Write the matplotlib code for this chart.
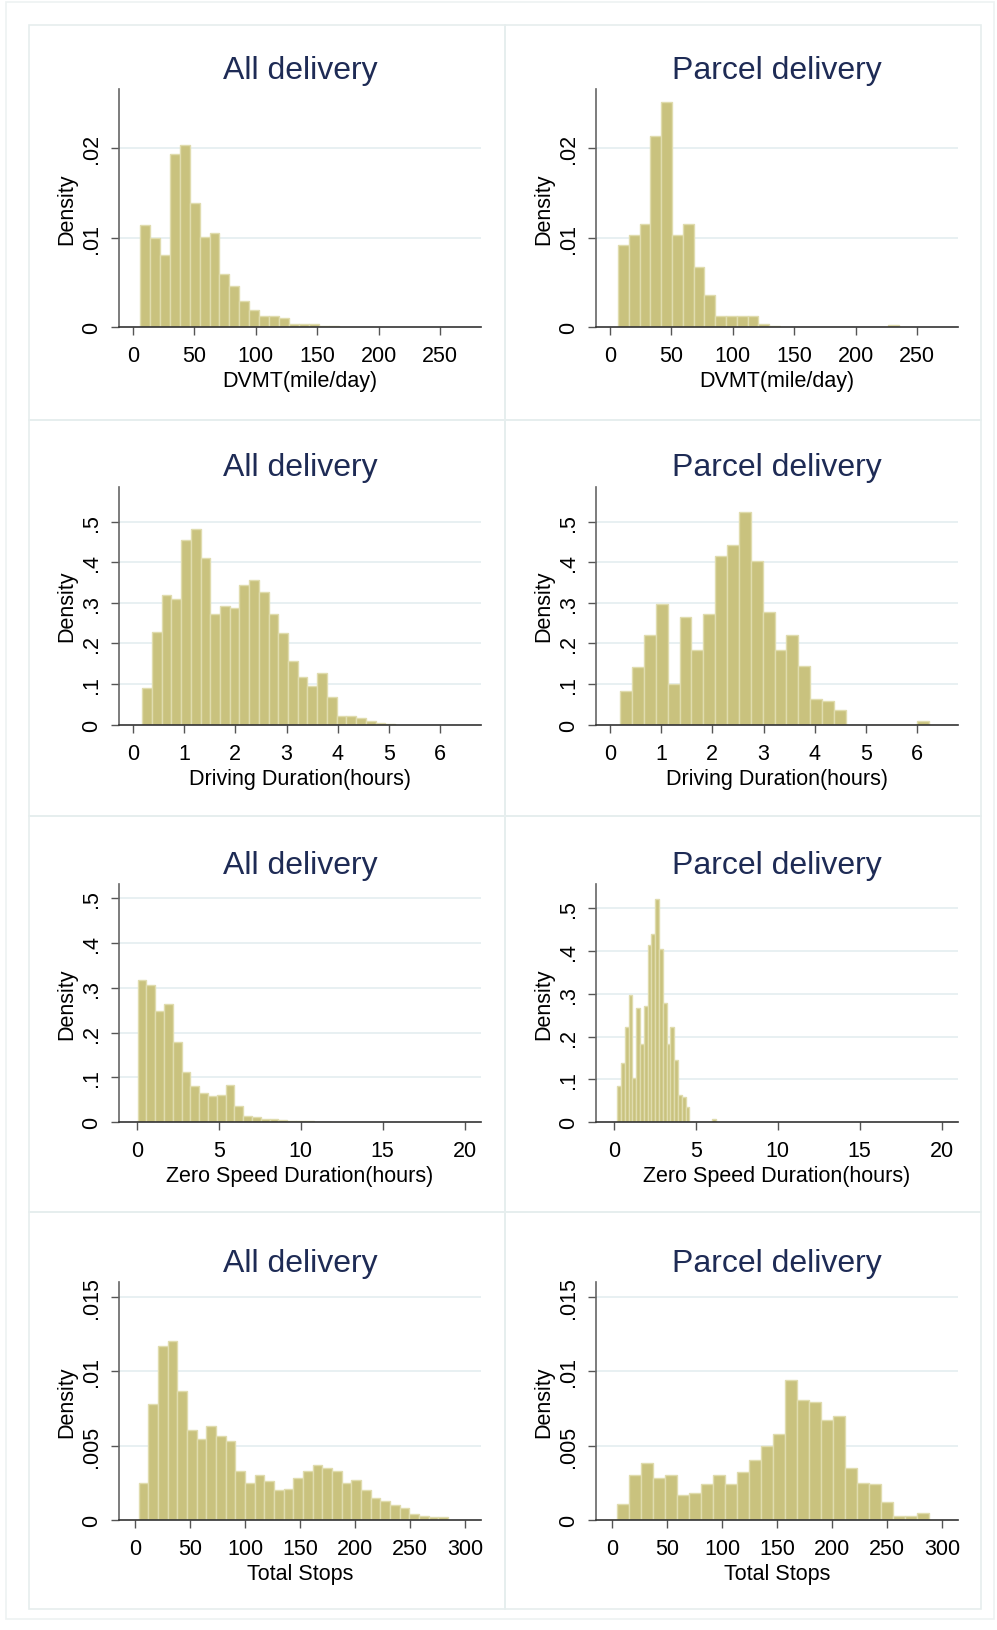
import numpy as np
import matplotlib
matplotlib.use('Agg')
import matplotlib.pyplot as plt
from matplotlib.patches import Rectangle

plt.rcParams['font.family'] = ['Liberation Sans', 'DejaVu Sans']

# ─────────────────────────────────────────────────────────────
# DATA (bar heights, density scale)
# each histogram: first bin edge, bin width, heights
# ─────────────────────────────────────────────────────────────
titles = ["All delivery", "Parcel delivery"]

# DVMT (mile/day)
all_dvmt_start, all_dvmt_width = 5.7, 8.09
all_dvmt = [0.01135, 0.00996, 0.00808, 0.01932, 0.02038, 0.01383, 0.01004,
            0.01053, 0.00594, 0.00462, 0.00293, 0.00188, 0.0012, 0.0012,
            0.00105, 0.0003, 0.0003, 0.0003, 0.0001, 0.0001]
parcel_dvmt_start, parcel_dvmt_width = 6.5, 8.8
parcel_dvmt = [0.00917, 0.01026, 0.01147, 0.02132, 0.02519, 0.01026, 0.01147,
               0.00669, 0.00357, 0.00124, 0.00124, 0.00124, 0.00124, 0.00034,
               0.0001, 0, 0, 0, 0, 0, 0, 0, 0, 0, 0, 0.0002]

# Driving duration (hours)
all_drive_start, all_drive_width = 0.18, 0.19
all_drive = [0.0904, 0.2288, 0.32, 0.31, 0.456, 0.481, 0.41, 0.272, 0.293,
             0.2875, 0.3436, 0.3567, 0.327, 0.272, 0.226, 0.157, 0.1165,
             0.0945, 0.127, 0.0676, 0.022, 0.022, 0.015, 0.008, 0.003, 0.002]
parcel_drive_start, parcel_drive_width = 0.2, 0.232
parcel_drive = [0.082, 0.141, 0.221, 0.296, 0.101, 0.265, 0.183, 0.272, 0.416,
                0.442, 0.524, 0.403, 0.278, 0.183, 0.221, 0.145, 0.064, 0.058,
                0.035, 0, 0, 0, 0, 0, 0, 0.008]

# Zero speed duration (hours)
all_zero_start, all_zero_width = 0.04, 0.537
all_zero = [0.318, 0.306, 0.249, 0.263, 0.179, 0.112, 0.08, 0.065, 0.058, 0.06,
            0.083, 0.035, 0.014, 0.012, 0.006, 0.006, 0.005, 0.003, 0.002,
            0.002, 0.001, 0.001]
parcel_zero_start, parcel_zero_width = 0.2, 0.232
parcel_zero = [0.084, 0.139, 0.222, 0.298, 0.104, 0.266, 0.183, 0.272, 0.415,
               0.441, 0.522, 0.404, 0.278, 0.183, 0.222, 0.146, 0.064, 0.058,
               0.035, 0, 0, 0, 0, 0, 0, 0.008]

# Total stops
all_stops_start, all_stops_width = 3.3, 8.78
all_stops = [0.0025, 0.00783, 0.01173, 0.01202, 0.0087, 0.00602, 0.00542,
             0.00629, 0.00562, 0.00529, 0.0033, 0.0025, 0.003, 0.0026, 0.002,
             0.0021, 0.0028, 0.0033, 0.0037, 0.0035, 0.0033, 0.0025, 0.0027,
             0.002, 0.0015, 0.0013, 0.001, 0.0008, 0.0004, 0.0003, 0.0002,
             0.0002]
parcel_stops_start, parcel_stops_width = 4.3, 10.9
parcel_stops = [0.0011, 0.003, 0.0038, 0.0028, 0.003, 0.0017, 0.0018, 0.0024,
                0.003, 0.0024, 0.0032, 0.00406, 0.00495, 0.00578, 0.0094,
                0.00807, 0.00794, 0.00671, 0.007, 0.0035, 0.0025, 0.0024,
                0.0012, 0.0003, 0.0003, 0.0005]

# axis labels / ticks per row
x_titles = ["DVMT(mile/day)", "Driving Duration(hours)",
            "Zero Speed Duration(hours)", "Total Stops"]
x_ticks = [[0, 50, 100, 150, 200, 250], [0, 1, 2, 3, 4, 5, 6],
           [0, 5, 10, 15, 20], [0, 50, 100, 150, 200, 250, 300]]
y_ticks = [[0, 0.01, 0.02], [0, .1, .2, .3, .4, .5],
           [0, .1, .2, .3, .4, .5], [0, 0.005, 0.01, 0.015]]
y_ticklabels = [["0", ".01", ".02"], ["0", ".1", ".2", ".3", ".4", ".5"],
                ["0", ".1", ".2", ".3", ".4", ".5"], ["0", ".005", ".01", ".015"]]
x_limits = [(-11.4, 283.4), (-0.273, 6.8), (-1.1, 21.0), (-14.5, 314.3)]
y_limits = [[0.0266, 0.0266], [0.587, 0.587], [0.532, 0.557], [0.016, 0.016]]

hists = [
    [(all_dvmt_start, all_dvmt_width, all_dvmt),
     (parcel_dvmt_start, parcel_dvmt_width, parcel_dvmt)],
    [(all_drive_start, all_drive_width, all_drive),
     (parcel_drive_start, parcel_drive_width, parcel_drive)],
    [(all_zero_start, all_zero_width, all_zero),
     (parcel_zero_start, parcel_zero_width, parcel_zero)],
    [(all_stops_start, all_stops_width, all_stops),
     (parcel_stops_start, parcel_stops_width, parcel_stops)],
]

# ─────────────────────────────────────────────────────────────
# LAYOUT (pixels of a 997 x 1631 canvas)
# ─────────────────────────────────────────────────────────────
W, H = 997, 1631
fig = plt.figure(figsize=(W / 100, H / 100), dpi=100)
fig.patch.set_facecolor('white')

TITLE_C = '#1e2b55'
BAR_C = '#c9c27e'
BAR_EDGE = '#e0dcae'
GRID_C = '#e4eef0'
BOX_C = '#e6eeee'

def px_rect(x0, y0, x1, y1):
    return [x0 / W, 1 - y1 / H, (x1 - x0) / W, (y1 - y0) / H]

# outer frame and panel frames
fig.patches.append(Rectangle((6 / W, 1 - 1620 / H), 988 / W, 1617 / H,
                             transform=fig.transFigure, fill=False,
                             edgecolor='#edf2f2', lw=1.2))
panel_x = [29, 505, 981]
panel_y = [26, 421, 817, 1213, 1610]
for r in range(4):
    for c in range(2):
        x0, x1 = panel_x[c], panel_x[c + 1]
        y0, y1 = panel_y[r], panel_y[r + 1]
        fig.patches.append(Rectangle((x0 / W, 1 - y1 / H), (x1 - x0) / W,
                                     (y1 - y0) / H, transform=fig.transFigure,
                                     fill=False, edgecolor=BOX_C, lw=1.2))

axes_left = [119, 596]
axes_w = 362
baselines = [328, 725.5, 1123, 1521]
axes_h = 238

for r in range(4):
    for c in range(2):
        left = axes_left[c]
        base = baselines[r]
        ax = fig.add_axes(px_rect(left, base - axes_h, left + axes_w, base))
        start, width, dens = hists[r][c]
        edges = start + width * np.arange(len(dens))
        ax.bar(edges, dens, width=width, align='edge', color=BAR_C,
               edgecolor=BAR_EDGE, linewidth=1.0, zorder=2)

        ax.set_xlim(*x_limits[r])
        ax.set_ylim(0, y_limits[r][c])
        ax.set_xticks(x_ticks[r])
        ax.set_yticks(y_ticks[r])
        ax.set_yticklabels(y_ticklabels[r], rotation=90, va='center')

        for yv in y_ticks[r][1:]:
            ax.axhline(yv, color=GRID_C, lw=1.2, zorder=1)

        for s in ['top', 'right']:
            ax.spines[s].set_visible(False)
        ax.spines['left'].set_color('#666666')
        ax.spines['bottom'].set_color('#333333')
        ax.spines['left'].set_linewidth(1.2)
        ax.spines['bottom'].set_linewidth(1.2)

        ax.tick_params(axis='both', direction='out', length=6, width=1.0,
                       color='#555555', labelsize=15.5)
        ax.tick_params(axis='x', pad=7)
        ax.tick_params(axis='y', pad=6)

        ax.set_xlabel(x_titles[r], fontsize=15.5, labelpad=3)
        ax.set_ylabel("Density", fontsize=15.5, labelpad=3)
        ax.set_title(titles[c], fontsize=23, color=TITLE_C, pad=8)

fig.savefig("out.png", dpi=100, facecolor='white')
